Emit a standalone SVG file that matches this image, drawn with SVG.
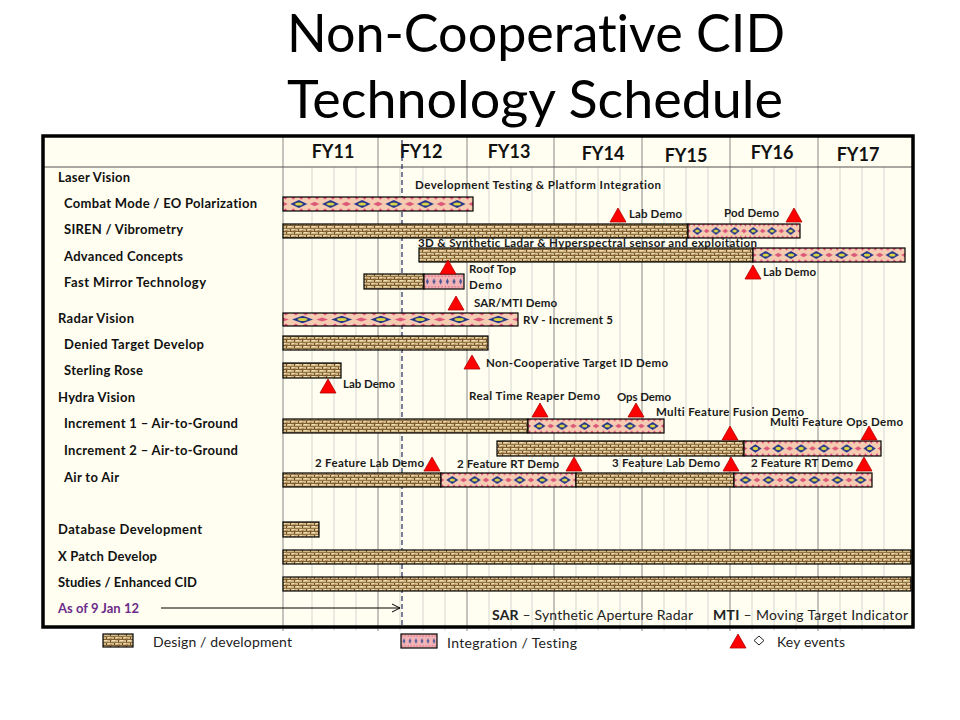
<svg xmlns="http://www.w3.org/2000/svg" width="960" height="720" viewBox="0 0 960 720">
  <style>
    text { font-variant-ligatures: none; font-feature-settings: "liga" 0; }
    .title { font-family: Lato, "Open Sans", "Liberation Sans", sans-serif; font-size: 52px; fill: #000; }
    .fy { font-family: Lato, "Liberation Sans", sans-serif; font-size: 18px; font-weight: bold; fill: #111; text-anchor: middle; }
    .row { font-family: Lato, "Liberation Sans", sans-serif; font-size: 13px; font-weight: bold; fill: #111; }
    .ev { font-family: Lato, "Liberation Sans", sans-serif; font-size: 11.5px; font-weight: bold; fill: #1a1a1a; }
    .leg { font-family: Lato, "Liberation Sans", sans-serif; font-size: 14px; fill: #222; }
    .legb { font-weight: bold; }
    .asof { fill: #6B2C8A; }
    .major { stroke: #8A8A8A; stroke-width: 1; }
    .minor { stroke: #D6D6D0; stroke-width: 1; }
    .dev { fill: url(#dev); stroke: #000; stroke-width: 1.2; }
    .int { fill: url(#int6); stroke: #000; stroke-width: 1.2; }
    .intb { fill: url(#intB); stroke: #000; stroke-width: 1.2; }
    .key { fill: #FF0000; stroke: #B00000; stroke-width: 0.8; }
  </style>
  <defs>
    <!-- woven burlap texture for design / development -->
    <pattern id="dev" patternUnits="userSpaceOnUse" width="8" height="6">
      <rect width="8" height="6" fill="#D2B985"/>
      <rect x="0" y="0" width="8" height="1" fill="#86653A" opacity="0.8"/>
      <rect x="0" y="3" width="8" height="1" fill="#7E5E32"/>
      <rect x="2" y="1" width="1" height="2" fill="#70522A"/>
      <rect x="6" y="4" width="1" height="2" fill="#70522A"/>
      <rect x="4" y="1" width="2" height="1" fill="#F0E2BC"/>
      <rect x="0" y="4" width="3" height="1" fill="#F0E2BC"/>
      <rect x="5" y="2" width="3" height="1" fill="#B39460"/>
    </pattern>
    <!-- woven band with six blue diamonds per bar for integration / testing -->
    <pattern id="int6" patternUnits="objectBoundingBox" width="0.1666667" height="1" viewBox="0 0 30 14" preserveAspectRatio="none">
      <rect width="30" height="14" fill="#F5CBB2"/>
      <polygon points="0,0 4.5,0 2.25,2.8" fill="#E44878"/>
      <polygon points="7.5,0 12,0 9.75,2.8" fill="#E44878"/>
      <polygon points="15,0 19.5,0 17.25,2.8" fill="#E44878"/>
      <polygon points="22.5,0 27,0 24.75,2.8" fill="#E44878"/>
      <polygon points="0,14 4.5,14 2.25,11.2" fill="#E44878"/>
      <polygon points="7.5,14 12,14 9.75,11.2" fill="#E44878"/>
      <polygon points="15,14 19.5,14 17.25,11.2" fill="#E44878"/>
      <polygon points="22.5,14 27,14 24.75,11.2" fill="#E44878"/>
      <polygon points="0,4.8 4.5,7 0,9.2" fill="#DC5878"/>
      <polygon points="30,4.8 25.5,7 30,9.2" fill="#DC5878"/>
      <polygon points="7,7 15,3 23,7 15,11" fill="#22348A"/>
      <ellipse cx="15" cy="7" rx="3.6" ry="1.6" fill="#D8D444"/>
    </pattern>
    <!-- pink band with a row of small blue diamonds -->
    <pattern id="intB" patternUnits="objectBoundingBox" width="0.1666667" height="1" viewBox="0 0 10 14" preserveAspectRatio="none">
      <rect width="10" height="14" fill="#F2B4B6"/>
      <rect x="1" y="1.5" width="2" height="1" fill="#D2506A"/>
      <rect x="6" y="1.5" width="2" height="1" fill="#D2506A"/>
      <rect x="1" y="11.5" width="2" height="1" fill="#D2506A"/>
      <rect x="6" y="11.5" width="2" height="1" fill="#D2506A"/>
      <polygon points="3,7 5,4 7,7 5,10" fill="#3B4C92"/>
    </pattern>
    <path id="tri" d="M0,0 L8,14 L-8,14 Z"/>
    <marker id="chev" markerWidth="10" markerHeight="10" refX="9" refY="5" orient="auto" markerUnits="userSpaceOnUse">
      <path d="M1,1 L9,5 L1,9" fill="none" stroke="#000" stroke-width="1"/>
    </marker>
  </defs>

  <rect width="960" height="720" fill="#FFFFFF"/>

  <!-- title -->
  <g id="title">
    <text class="title" x="287" y="52" textLength="498" lengthAdjust="spacingAndGlyphs">Non-Cooperative CID</text>
    <text class="title" x="287" y="118" textLength="496" lengthAdjust="spacingAndGlyphs">Technology Schedule</text>
  </g>

  <!-- chart background -->
  <rect x="43" y="136" width="870" height="491" fill="#FFFEF0"/>

  <!-- grid: quarter lines and fiscal year lines -->
  <g id="grid">
    <g class="minor">
      <line x1="312" y1="167" x2="312" y2="631"/>
      <line x1="334" y1="167" x2="334" y2="631"/>
      <line x1="356" y1="167" x2="356" y2="631"/>
      <line x1="400" y1="167" x2="400" y2="631"/>
      <line x1="423" y1="167" x2="423" y2="631"/>
      <line x1="445" y1="167" x2="445" y2="631"/>
      <line x1="489" y1="167" x2="489" y2="631"/>
      <line x1="511" y1="167" x2="511" y2="631"/>
      <line x1="532" y1="167" x2="532" y2="631"/>
      <line x1="576" y1="167" x2="576" y2="631"/>
      <line x1="598" y1="167" x2="598" y2="631"/>
      <line x1="620" y1="167" x2="620" y2="631"/>
      <line x1="664" y1="167" x2="664" y2="631"/>
      <line x1="686" y1="167" x2="686" y2="631"/>
      <line x1="708" y1="167" x2="708" y2="631"/>
      <line x1="752" y1="167" x2="752" y2="631"/>
      <line x1="774" y1="167" x2="774" y2="631"/>
      <line x1="796" y1="167" x2="796" y2="631"/>
      <line x1="840" y1="167" x2="840" y2="631"/>
      <line x1="862" y1="167" x2="862" y2="631"/>
      <line x1="884" y1="167" x2="884" y2="631"/>
    </g>
    <g class="major">
      <line x1="283" y1="136" x2="283" y2="631"/>
      <line x1="378" y1="136" x2="378" y2="631"/>
      <line x1="467" y1="136" x2="467" y2="631"/>
      <line x1="554" y1="136" x2="554" y2="631"/>
      <line x1="642" y1="136" x2="642" y2="631"/>
      <line x1="730" y1="136" x2="730" y2="631"/>
      <line x1="818" y1="136" x2="818" y2="631"/>
    </g>
    <line x1="43" y1="167" x2="913" y2="167" stroke="#555" stroke-width="1.2"/>
  </g>

  <!-- fiscal year header -->
  <g id="header">
    <text class="fy" x="333" y="158">FY11</text>
    <text class="fy" x="421" y="158">FY12</text>
    <text class="fy" x="509" y="158">FY13</text>
    <text class="fy" x="603" y="160">FY14</text>
    <text class="fy" x="686" y="162">FY15</text>
    <text class="fy" x="772" y="159">FY16</text>
    <text class="fy" x="858" y="161">FY17</text>
  </g>

  <!-- status date line and arrow -->
  <g id="connectors">
    <line x1="402" y1="140" x2="402" y2="625" stroke="#1E2D5A" stroke-width="1.2" stroke-dasharray="5,3"/>
    <line x1="161" y1="608" x2="400" y2="608" stroke="#000" stroke-width="1" marker-end="url(#chev)"/>
  </g>

  <g id="laser-vision">
    <text class="row" x="58" y="182" textLength="72">Laser Vision</text>
    <text class="ev" x="415" y="189" textLength="246">Development Testing &amp; Platform Integration</text>
  </g>

  <g id="combat-mode">
    <text class="row" x="64" y="208" textLength="193">Combat Mode / EO Polarization</text>
    <rect class="int" x="283" y="197" width="190" height="14"/>
  </g>

  <g id="siren">
    <text class="row" x="64" y="234" textLength="119">SIREN / Vibrometry</text>
    <rect class="dev" x="283" y="224" width="405" height="14"/>
    <rect class="int" x="688" y="224" width="112" height="14"/>
    <use href="#tri" class="key" x="618" y="208"/>
    <text class="ev" x="629" y="218" textLength="53">Lab Demo</text>
    <use href="#tri" class="key" x="794" y="208"/>
    <text class="ev" x="724" y="217" textLength="55">Pod Demo</text>
  </g>

  <g id="advanced-concepts">
    <text class="row" x="64" y="261" textLength="119">Advanced Concepts</text>
    <rect class="dev" x="419" y="248" width="334" height="14"/>
    <rect class="int" x="753" y="248" width="152" height="14"/>
    <text class="ev" x="418" y="247" textLength="339">3D &amp; Synthetic Ladar &amp; Hyperspectral sensor and exploitation</text>
    <use href="#tri" class="key" x="753" y="265"/>
    <text class="ev" x="763" y="276" textLength="53">Lab Demo</text>
  </g>

  <g id="fast-mirror">
    <text class="row" x="64" y="287" textLength="142">Fast Mirror Technology</text>
    <rect class="dev" x="364" y="274" width="60" height="15"/>
    <rect class="intb" x="424" y="274" width="40" height="15"/>
    <use href="#tri" class="key" x="448" y="260"/>
    <text class="ev" x="469" y="273" textLength="47">Roof Top</text>
    <text class="ev" x="469" y="289" textLength="33">Demo</text>
    <use href="#tri" class="key" x="456" y="296"/>
    <text class="ev" x="474" y="307" textLength="83">SAR/MTI Demo</text>
  </g>

  <g id="radar-vision">
    <text class="row" x="58" y="323" textLength="76">Radar Vision</text>
    <rect class="int" x="283" y="313" width="235" height="13"/>
    <text class="ev" x="523" y="324" textLength="90">RV - Increment 5</text>
  </g>

  <g id="denied-target">
    <text class="row" x="64" y="349" textLength="140">Denied Target Develop</text>
    <rect class="dev" x="283" y="336" width="205" height="14"/>
    <use href="#tri" class="key" x="472" y="355"/>
    <text class="ev" x="486" y="367" textLength="182">Non-Cooperative Target ID Demo</text>
  </g>

  <g id="sterling-rose">
    <text class="row" x="64" y="375" textLength="79">Sterling Rose</text>
    <rect class="dev" x="283" y="363" width="58" height="15"/>
    <use href="#tri" class="key" x="328" y="379"/>
    <text class="ev" x="343" y="388" textLength="52">Lab Demo</text>
  </g>

  <g id="hydra-vision">
    <text class="row" x="58" y="402" textLength="77">Hydra Vision</text>
    <text class="ev" x="469" y="400" textLength="131">Real Time Reaper Demo</text>
    <text class="ev" x="617" y="401" textLength="54">Ops Demo</text>
  </g>

  <g id="increment-1">
    <text class="row" x="64" y="428" textLength="174">Increment 1 – Air-to-Ground</text>
    <rect class="dev" x="283" y="419" width="245" height="14"/>
    <rect class="int" x="528" y="419" width="136" height="14"/>
    <use href="#tri" class="key" x="540" y="403"/>
    <use href="#tri" class="key" x="636" y="403"/>
    <text class="ev" x="656" y="416" textLength="148">Multi Feature Fusion Demo</text>
  </g>

  <g id="increment-2">
    <text class="row" x="64" y="455" textLength="174">Increment 2 – Air-to-Ground</text>
    <rect class="dev" x="497" y="441" width="247" height="15"/>
    <rect class="int" x="744" y="441" width="137" height="15"/>
    <use href="#tri" class="key" x="730" y="426"/>
    <use href="#tri" class="key" x="869" y="426"/>
    <text class="ev" x="770" y="426" textLength="133">Multi Feature Ops Demo</text>
  </g>

  <g id="air-to-air">
    <text class="row" x="64" y="482" textLength="55">Air to Air</text>
    <rect class="dev" x="283" y="473" width="158" height="14"/>
    <rect class="int" x="441" y="473" width="135" height="14"/>
    <rect class="dev" x="576" y="473" width="158" height="14"/>
    <rect class="int" x="734" y="473" width="138" height="14"/>
    <use href="#tri" class="key" x="432" y="457"/>
    <text class="ev" x="315" y="467" textLength="109">2 Feature Lab Demo</text>
    <use href="#tri" class="key" x="574" y="457"/>
    <text class="ev" x="457" y="468" textLength="102">2 Feature RT Demo</text>
    <use href="#tri" class="key" x="731" y="457"/>
    <text class="ev" x="612" y="467" textLength="108">3 Feature Lab Demo</text>
    <use href="#tri" class="key" x="864" y="457"/>
    <text class="ev" x="751" y="467" textLength="102">2 Feature RT Demo</text>
  </g>

  <g id="database-development">
    <text class="row" x="58" y="534" textLength="144">Database Development</text>
    <rect class="dev" x="283" y="522" width="36" height="15"/>
  </g>

  <g id="xpatch">
    <text class="row" x="58" y="561" textLength="99">X Patch Develop</text>
    <rect class="dev" x="283" y="550" width="628" height="14"/>
  </g>

  <g id="studies">
    <text class="row" x="58" y="587" textLength="139">Studies / Enhanced CID</text>
    <rect class="dev" x="283" y="577" width="628" height="14"/>
  </g>

  <g id="as-of">
    <text class="row asof" x="58" y="613" textLength="81">As of 9 Jan 12</text>
  </g>

  <g id="acronyms">
    <text class="leg" x="492" y="620" textLength="201"><tspan class="legb">SAR</tspan> – Synthetic Aperture Radar</text>
    <text class="leg" x="713" y="620" textLength="195"><tspan class="legb">MTI</tspan> – Moving Target Indicator</text>
  </g>

  <!-- chart frame -->
  <rect x="43" y="136" width="870" height="491" fill="none" stroke="#000" stroke-width="3.5"/>

  <!-- legend -->
  <g id="legend">
    <rect class="dev" x="103" y="634" width="30" height="13" stroke-width="0.8"/>
    <text class="leg" x="153" y="647" textLength="139">Design / development</text>
    <rect class="intb" x="401" y="634" width="36" height="14" stroke-width="0.8"/>
    <text class="leg" x="447" y="648" textLength="130">Integration / Testing</text>
    <use href="#tri" class="key" x="738" y="634"/>
    <polygon points="759,636 764,640.5 759,645 754,640.5" fill="none" stroke="#222" stroke-width="1"/>
    <text class="leg" x="777" y="647" textLength="68">Key events</text>
  </g>
</svg>
